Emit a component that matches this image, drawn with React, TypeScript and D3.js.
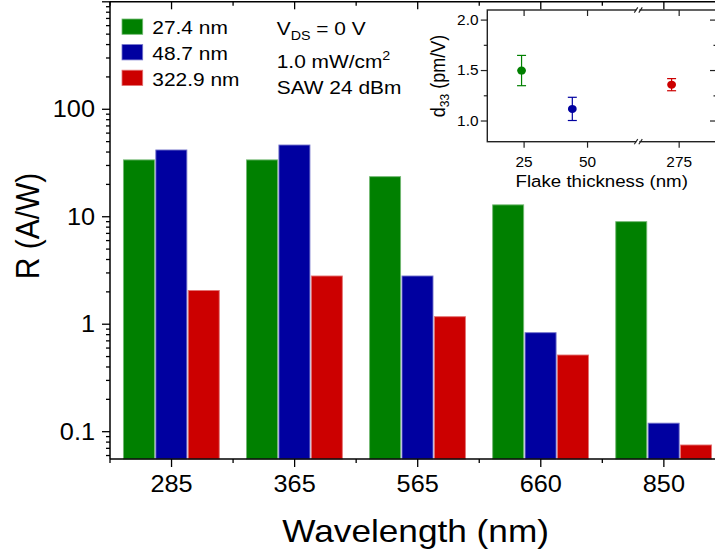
import React from 'react';
import * as d3 from 'd3';

// ---------- data ----------
const categories = ['285', '365', '565', '660', '850'];
const seriesNames = ['27.4 nm', '48.7 nm', '322.9 nm'];
const seriesColors = ['#008000', '#0000A0', '#CC0000'];
const values27 = [33.8, 33.8, 23.6, 12.9, 9.0];
const values48 = [41.8, 46.5, 2.81, 0.834, 0.12];
const values322 = [2.06, 2.81, 1.175, 0.517, 0.0752];
const yTickValues = [0.1, 1, 10, 100];
const yTickLabels = ['0.1', '1', '10', '100'];

const insetThickness = [24, 44, 272];
const insetD33 = [1.5, 1.12, 1.36];
const insetErr = [0.15, 0.115, 0.06];
const insetXTicks = [25, 50, 275];
const insetYTicks = [1.0, 1.5, 2.0];
const insetYTickLabels = ['1.0', '1.5', '2.0'];
const insetYMinor = [1.25, 1.75];

const FONT = "'Liberation Sans', Arial, sans-serif";
const SX = 1.1;

function T(props: any) {
  const { x, y, size, anchor = 'start', rotate, children, dy } = props;
  const tr = `translate(${x},${y}) scale(${SX},1)` + (rotate ? ` rotate(${rotate})` : '');
  return (
    <text transform={tr} fontSize={size} textAnchor={anchor} fontFamily={FONT} fill="#000" dy={dy}>
      {children}
    </text>
  );
}

export default function App() {
  const W = 715, H = 552;
  const left = 110, top = 1.8, bottom = 459;
  const step = 123.08;
  const x = d3.scaleBand<string>().domain(categories).range([left, left + step * categories.length]).padding(0);
  const bw = x.bandwidth();
  const xs = d3.scaleBand<number>().domain([0, 1, 2]).range([bw * 0.105, bw * 0.895]).padding(0);
  const y = d3.scaleLog().domain([0.0557, 1000]).range([bottom, top]);
  const right = left + step * categories.length;
  const series = [values27, values48, values322];

  const minor: number[] = [];
  for (let e = -2; e <= 3; e++) {
    for (let k = 2; k <= 9; k++) {
      const v = k * Math.pow(10, e);
      if (v >= 0.0557 && v <= 1000) minor.push(v);
    }
  }

  // inset scales
  const iL = 487.3, iR = 717, iT = 10, iB = 141.7, iBreak = 638.3;
  const iy = d3.scaleLinear().domain([0.795, 2.1]).range([iB, iT]);
  const ixL = d3.scaleLinear().domain([10.5, 70]).range([iL, iBreak]);
  const ixR = d3.scaleLinear().domain([258.8, 290]).range([iBreak, iR]);
  const ix = (v: number) => (v < 150 ? ixL(v) : ixR(v));

  const boundaries = categories.map((c) => x(c) as number).concat([right]);

  return (
    <svg width={W} height={H} style={{ position: 'absolute', left: 0, top: 0, background: '#fff' }}>
      <rect x={0} y={0} width={W} height={H} fill="#fff" />
      {/* bars */}
      {categories.map((c, ci) => (
        <g key={c} transform={`translate(${x(c)},0)`}>
          {series.map((s, si) => {
            const col = seriesColors[si];
            const light = d3.interpolateRgb(col, '#ffffff')(0.45);
            const yy = y(s[ci]);
            return (
              <rect
                key={si}
                x={(xs(si) as number) + 0.5}
                y={yy}
                width={xs.bandwidth() - 1.4}
                height={bottom - yy}
                fill={col}
                stroke={light}
                strokeWidth={0.9}
              />
            );
          })}
        </g>
      ))}

      {/* axes frame */}
      <g stroke="#000" strokeWidth={1.5} fill="none">
        <line x1={left} y1={top} x2={left} y2={bottom} />
        <line x1={left} y1={bottom} x2={right} y2={bottom} />
        <line x1={left} y1={top} x2={right} y2={top} />
        <line x1={right} y1={top} x2={right} y2={bottom} />
      </g>
      {/* y ticks */}
      <g stroke="#000" strokeWidth={1.3}>
        {yTickValues.concat([1000]).map((v) => (
          <line key={'M' + v} x1={left} x2={left - 8} y1={y(v)} y2={y(v)} />
        ))}
        {minor.map((v) => (
          <line key={'m' + v} x1={left} x2={left - 4} y1={y(v)} y2={y(v)} />
        ))}
        {categories.map((c) => {
          const cx = (x(c) as number) + bw / 2;
          return (
            <g key={c}>
              <line x1={cx} x2={cx} y1={bottom} y2={bottom + 8} />
              <line x1={cx} x2={cx} y1={top} y2={top + 7.5} />
            </g>
          );
        })}
        {boundaries.map((b, i) => (
          <g key={'b' + i}>
            <line x1={b} x2={b} y1={bottom} y2={bottom + 4} />
            <line x1={b} x2={b} y1={top} y2={top + 4} />
          </g>
        ))}
      </g>
      {yTickValues.map((v, i) => (
        <T key={v} x={95} y={y(v)} size={23} anchor="end" dy="0.35em">
          {yTickLabels[i]}
        </T>
      ))}
      {categories.map((c) => (
        <T key={c} x={(x(c) as number) + bw / 2} y={491.5} size={23} anchor="middle">
          {c}
        </T>
      ))}
      <T x={415.6} y={542} size={32} anchor="middle">
        Wavelength (nm)
      </T>
      <T x={38.5} y={226} size={30} anchor="middle" rotate={-90}>
        R (A/W)
      </T>

      {/* legend */}
      {seriesNames.map((n, i) => (
        <g key={n}>
          <rect x={122} y={19 + i * 25.6} width={20.7} height={15.3} fill={seriesColors[i]}
            stroke={d3.interpolateRgb(seriesColors[i], '#ffffff')(0.45)} strokeWidth={0.8} />
          <T x={152.3} y={34.3 + i * 25.6} size={19}>
            {n}
          </T>
        </g>
      ))}
      {/* annotations */}
      <text transform={`translate(276.7,35) scale(${SX},1)`} fontSize={19} fontFamily={FONT} fill="#000">
        V<tspan fontSize={13} dy={5}>DS</tspan>
        <tspan dy={-5}> = 0 V</tspan>
      </text>
      <text transform={`translate(276.7,68.3) scale(${SX},1)`} fontSize={19} fontFamily={FONT} fill="#000">
        1.0 mW/cm<tspan fontSize={13} dy={-8}>2</tspan>
      </text>
      <T x={276.7} y={94} size={19}>
        SAW 24 dBm
      </T>

      {/* inset */}
      <g>
        <rect x={iL} y={iT} width={iR - iL} height={iB - iT} fill="#fff" stroke="#222" strokeWidth={1.4} />
        <g stroke="#222" strokeWidth={1.2}>
          {insetYTicks.map((v) => (
            <g key={v}>
              <line x1={iL} x2={iL - 6.5} y1={iy(v)} y2={iy(v)} />
              <line x1={iR} x2={iR - 7} y1={iy(v)} y2={iy(v)} />
            </g>
          ))}
          {insetYMinor.map((v) => (
            <g key={v}>
              <line x1={iL} x2={iL - 3.5} y1={iy(v)} y2={iy(v)} />
              <line x1={iR} x2={iR - 3.5} y1={iy(v)} y2={iy(v)} />
            </g>
          ))}
          {insetXTicks.map((v) => (
            <g key={v}>
              <line x1={ix(v)} x2={ix(v)} y1={iB} y2={iB + 6} />
              <line x1={ix(v)} x2={ix(v)} y1={iT} y2={iT + 6} />
            </g>
          ))}
        </g>
        {[iT, iB].map((by) => (
          <g key={by}>
            <rect x={iBreak - 2} y={by - 1.5} width={3} height={3} fill="#fff" />
            <g stroke="#222" strokeWidth={1.1}>
              <line x1={iBreak - 4} y1={by + 2.6} x2={iBreak - 0.5} y2={by - 2.6} />
              <line x1={iBreak + 0.5} y1={by + 2.6} x2={iBreak + 4} y2={by - 2.6} />
            </g>
          </g>
        ))}
        {insetThickness.map((t, i) => {
          const cx = ix(t);
          const col = seriesColors[i];
          const y1 = iy(insetD33[i] + insetErr[i]);
          const y2 = iy(insetD33[i] - insetErr[i]);
          return (
            <g key={t} stroke={col} strokeWidth={1.2}>
              <line x1={cx} x2={cx} y1={y1} y2={y2} />
              <line x1={cx - 4.5} x2={cx + 4.5} y1={y1} y2={y1} />
              <line x1={cx - 4.5} x2={cx + 4.5} y1={y2} y2={y2} />
              <ellipse cx={cx} cy={iy(insetD33[i])} rx={4.4} ry={4} fill={col} stroke="none" />
            </g>
          );
        })}
        {insetYTicks.map((v, i) => (
          <T key={v} x={478.5} y={iy(v)} size={14} anchor="end" dy="0.35em">
            {insetYTickLabels[i]}
          </T>
        ))}
        {insetXTicks.map((v) => (
          <T key={v} x={ix(v)} y={166.7} size={14} anchor="middle">
            {String(v)}
          </T>
        ))}
        <T x={601.7} y={186.7} size={17} anchor="middle">
          Flake thickness (nm)
        </T>
        <text transform={`translate(445,76) scale(${SX},1) rotate(-90)`} fontSize={18} fontFamily={FONT}
          textAnchor="middle" fill="#000">
          d<tspan fontSize={12} dy={4}>33</tspan>
          <tspan dy={-4}> (pm/V)</tspan>
        </text>
      </g>
    </svg>
  );
}
